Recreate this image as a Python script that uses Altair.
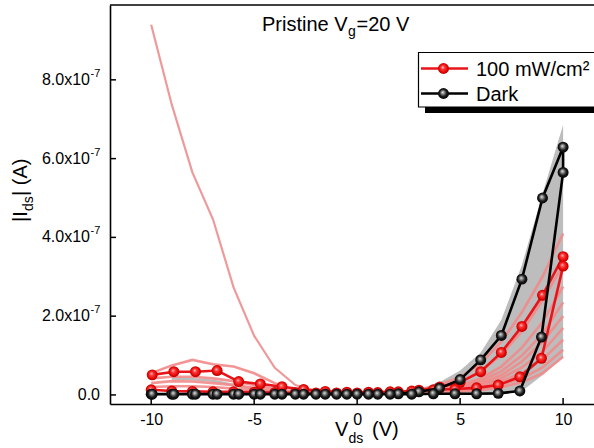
import altair as alt
import pandas as pd

FONT = "Liberation Sans"
UNIT = 1e-7  # current values below are given in units of 1e-7 A

# ---- highlighted sweeps: forward (-10 -> 10 V) then backward (10 -> -10 V)
v_fwd = [-10, -9, -8, -7, -6, -5, -4, -3, -2, -1, 0, 1, 2, 3, 4, 5, 6, 7, 8, 9, 10]
v_bwd = [10, 8.95, 7.9, 6.85, 5.8, 4.75, 3.7, 2.65, 1.6, 0.55, -0.5, -1.55,
         -2.6, -3.65, -4.7, -5.75, -6.8, -7.85, -8.9, -9.95]

dark_fwd = [0.02, 0.02, 0.02, 0.02, 0.02, 0.02, 0.02, 0.02, 0.02, 0.02, 0.02,
            0.02, 0.03, 0.08, 0.17, 0.39, 0.89, 1.51, 2.94, 5.00, 6.29]
dark_bwd = [5.65, 1.47, 0.10, 0.04, 0.03, 0.03, 0.03, 0.02, 0.02, 0.02, 0.02,
            0.02, 0.02, 0.02, 0.02, 0.02, 0.02, 0.02, 0.02, 0.02]
light_fwd = [0.13, 0.10, 0.09, 0.08, 0.08, 0.07, 0.06, 0.05, 0.05, 0.05, 0.05,
             0.06, 0.08, 0.12, 0.20, 0.32, 0.59, 1.08, 1.74, 2.53, 3.51]
light_bwd = [3.27, 0.93, 0.46, 0.25, 0.18, 0.15, 0.13, 0.10, 0.08, 0.07, 0.07,
             0.09, 0.14, 0.21, 0.28, 0.34, 0.62, 0.59, 0.59, 0.51]

# ---- repeated dark sweeps (grey envelope)
band_v = [2, 3, 4, 5, 6, 7, 8, 9, 10]
band_hi = [0.03, 0.12, 0.32, 0.62, 1.08, 1.90, 3.30, 5.10, 6.86]
band_lo = [0.00, 0.00, 0.00, 0.00, 0.02, 0.04, 0.10, 0.50, 0.97]

# ---- repeated illuminated sweeps (thin light-red curves)
fan_v = [3, 4, 5, 6, 7, 8, 9, 10]
fan_1 = [0.14, 0.26, 0.45, 0.80, 1.35, 2.10, 3.00, 4.10]
fan_2 = [0.10, 0.16, 0.25, 0.42, 0.72, 1.20, 1.85, 2.75]
fan_3 = [0.09, 0.14, 0.22, 0.36, 0.60, 1.00, 1.55, 2.35]
fan_4 = [0.08, 0.12, 0.19, 0.30, 0.50, 0.85, 1.35, 2.00]
fan_5 = [0.07, 0.10, 0.16, 0.26, 0.42, 0.70, 1.10, 1.70]
fan_6 = [0.06, 0.09, 0.13, 0.21, 0.35, 0.55, 0.90, 1.40]
fan_7 = [0.05, 0.07, 0.10, 0.16, 0.27, 0.42, 0.70, 1.15]
fan_8 = [0.04, 0.06, 0.08, 0.12, 0.20, 0.32, 0.55, 0.97]
fan_9 = [0.12, 0.20, 0.35, 0.60, 1.02, 1.62, 2.40, 3.30]

left_v = [-10, -9, -8, -7, -6, -5, -4, -3, -2]
left_1 = [0.55, 0.75, 0.89, 0.78, 0.72, 0.55, 0.30, 0.12, 0.05]
left_2 = [0.42, 0.46, 0.46, 0.42, 0.35, 0.25, 0.15, 0.08, 0.05]
left_3 = [0.30, 0.35, 0.34, 0.30, 0.25, 0.18, 0.10, 0.06, 0.04]
left_4 = [0.20, 0.22, 0.22, 0.20, 0.16, 0.12, 0.08, 0.05, 0.04]

spike_v = [-10, -9, -8, -7, -6, -5, -4, -3, -2, -1, 0, 1, 2]
spike = [9.40, 7.37, 5.65, 4.46, 2.73, 1.50, 0.69, 0.25, 0.10, 0.06, 0.05, 0.05, 0.07]

grey_left_v = [-9, -8, -7, -6, -5]
grey_left = [0.42, 0.40, 0.36, 0.25, 0.15]

# ---- axes text
x_ticks = [-10, -5, 0, 5, 10]
y_ticks = [0, 2, 4, 6, 8]
y_bases = ["0.0", "2.0x10", "4.0x10", "6.0x10", "8.0x10"]
y_exps = ["", "-7", "-7", "-7", "-7"]
legend_labels = ["100 mW/cm\u00b2", "Dark"]

W, H = 484, 399
RED = "#e8141a"
PINK = "#f28a8a"
SPIKE = "#ee9a9a"
GREY = "#bdbdbd"

# ---------------------------------------------------------------- tables
def sweep(vf, yf, vb, yb):
    rows = []
    for i, (v, y) in enumerate(zip(vf, yf)):
        rows.append({"V": v, "I": y * UNIT, "seq": i})
    for j, (v, y) in enumerate(zip(vb, yb)):
        rows.append({"V": v, "I": y * UNIT, "seq": len(vf) + j})
    return pd.DataFrame(rows)

dark_df = sweep(v_fwd, dark_fwd, v_bwd, dark_bwd)
light_df = sweep(v_fwd, light_fwd, v_bwd, light_bwd)

band_df = pd.DataFrame({"V": band_v,
                        "hi": [y * UNIT for y in band_hi],
                        "lo": [y * UNIT for y in band_lo]})

pink_rows = []
for name, vs, ys in [("f1", fan_v, fan_1), ("f2", fan_v, fan_2), ("f3", fan_v, fan_3),
                     ("f4", fan_v, fan_4), ("f5", fan_v, fan_5), ("f6", fan_v, fan_6),
                     ("f7", fan_v, fan_7), ("f8", fan_v, fan_8), ("f9", fan_v, fan_9),
                     ("l1", left_v, left_1), ("l2", left_v, left_2),
                     ("l3", left_v, left_3), ("l4", left_v, left_4)]:
    for v, y in zip(vs, ys):
        pink_rows.append({"curve": name, "V": v, "I": y * UNIT})
pink_df = pd.DataFrame(pink_rows)

spike_df = pd.DataFrame({"V": spike_v, "I": [y * UNIT for y in spike]})

grey_df = pd.DataFrame({"curve": "g1", "V": grey_left_v,
                        "I": [y * UNIT for y in grey_left]})

ytick_df = pd.DataFrame({"I": [t * UNIT for t in y_ticks],
                         "base": y_bases, "exp": y_exps})
xtick_df = pd.DataFrame({"V": x_ticks})
one = pd.DataFrame({"k": [0]})

# ---------------------------------------------------------------- scales
X_SCALE = alt.Scale(domain=[-12, 11.5], nice=False, zero=False)
Y_SCALE = alt.Scale(domain=[-0.23e-7, 9.9e-7], nice=False, zero=False)

x_axis = alt.Axis(values=x_ticks,
                  labelExpr="datum.value < 0 ? '-' + format(-datum.value, 'd') : format(datum.value, 'd')",
                  ticks=False, grid=False, title=None,
                  domainColor="black", domainWidth=1.6,
                  labelFont=FONT, labelFontSize=16, labelColor="black",
                  labelPadding=7)
y_axis = alt.Axis(labels=False, ticks=False, grid=False, title=None,
                  domainColor="black", domainWidth=1.6)


def xe(field):
    return alt.X(f"{field}:Q", scale=X_SCALE, axis=x_axis)


def ye(field):
    return alt.Y(f"{field}:Q", scale=Y_SCALE, axis=y_axis)


def ball(stops):
    return alt.RadialGradient(
        gradient="radial", x1=0.42, y1=0.38, r1=0, x2=0.5, y2=0.5, r2=0.55,
        stops=[alt.GradientStop(offset=o, color=c) for o, c in stops])

RED_BALL = ball([(0, "#ffd6d6"), (0.3, "#ff3a3a"), (0.75, "#e00000"), (1, "#a00000")])
BLACK_BALL = ball([(0, "#f0f0f0"), (0.28, "#858585"), (0.6, "#1a1a1a"), (1, "#000000")])

# ---------------------------------------------------------------- layers
x_tick_marks = alt.Chart(xtick_df).mark_rule(color="black", strokeWidth=1.5).encode(
    x=xe("V"), y=alt.value(H), y2=alt.value(H - 6))
y_tick_marks = alt.Chart(ytick_df).mark_rule(color="black", strokeWidth=1.5).encode(
    y=ye("I"), x=alt.value(0), x2=alt.value(6))

band = alt.Chart(band_df).mark_area(color=GREY).encode(
    x=xe("V"), y=ye("hi"), y2="lo:Q")

grey_lines = alt.Chart(grey_df).mark_line(color=GREY, strokeWidth=2.5).encode(
    x=xe("V"), y=ye("I"), detail="curve:N")

pink_lines = alt.Chart(pink_df).mark_line(color=PINK, strokeWidth=2.6, opacity=0.9).encode(
    x=xe("V"), y=ye("I"), detail="curve:N")

spike_line = alt.Chart(spike_df).mark_line(color=SPIKE, strokeWidth=2.2).encode(
    x=xe("V"), y=ye("I"))

red_line = alt.Chart(light_df).mark_line(color=RED, strokeWidth=2.6).encode(
    x=xe("V"), y=ye("I"), order="seq:Q")
red_pts = alt.Chart(light_df).mark_circle(size=120, fill=RED_BALL, opacity=1).encode(
    x=xe("V"), y=ye("I"))

black_line = alt.Chart(dark_df).mark_line(color="black", strokeWidth=2.6).encode(
    x=xe("V"), y=ye("I"), order="seq:Q")
black_pts = alt.Chart(dark_df).mark_circle(size=120, fill=BLACK_BALL, opacity=1).encode(
    x=xe("V"), y=ye("I"))

top_border = alt.Chart(one).mark_rule(color="black", strokeWidth=1.6).encode(
    x=alt.value(0), x2=alt.value(W + 10), y=alt.value(0))

# y tick labels with raised exponent
y_lab_base = alt.Chart(ytick_df).transform_filter("datum.exp != ''").mark_text(
    align="right", baseline="middle", font=FONT, fontSize=16, color="black").encode(
    y=ye("I"), x=alt.value(-20), text="base:N")
y_lab_exp = alt.Chart(ytick_df).transform_filter("datum.exp != ''").mark_text(
    align="left", baseline="middle", font=FONT, fontSize=11, color="black", dy=-6).encode(
    y=ye("I"), x=alt.value(-19.5), text="exp:N")
y_lab_zero = alt.Chart(ytick_df).transform_filter("datum.exp == ''").mark_text(
    align="right", baseline="middle", font=FONT, fontSize=16, color="black").encode(
    y=ye("I"), x=alt.value(-10), text="base:N")


def label(txt, x, y, size=20, angle=0):
    kw = dict(align="left", baseline="alphabetic", font=FONT, fontSize=size, color="black")
    if angle:
        kw["angle"] = angle
    return alt.Chart(one).mark_text(**kw).encode(
        x=alt.value(x), y=alt.value(y), text=alt.value(txt))

# axis titles with subscripts
x_title = [label("V", 225, 431), label("ds", 238.5, 438, 14), label("(V)", 262, 431)]
y_title = [label("|I", -83, 217, 20, 270), label("ds", -77, 206, 14, 270),
           label("| (A)", -83, 191, 20, 270)]
note = [label("Pristine V", 152, 25.5), label("g", 238, 31, 14), label("=20 V", 246.5, 25.5)]

# legend box with drop shadow
leg_shadow = alt.Chart(one).mark_rect(color="black").encode(
    x=alt.value(315), x2=alt.value(W + 10), y=alt.value(53), y2=alt.value(108))
leg_box = alt.Chart(one).mark_rect(fill="white", stroke="black", strokeWidth=1.2).encode(
    x=alt.value(308.5), x2=alt.value(W + 10), y=alt.value(47.5), y2=alt.value(102))

legend_layers = [leg_shadow, leg_box]
for lab, col, grad, yy in [(legend_labels[0], RED, RED_BALL, 63.5),
                           (legend_labels[1], "black", BLACK_BALL, 88.5)]:
    legend_layers.append(alt.Chart(one).mark_rule(color=col, strokeWidth=2.5).encode(
        x=alt.value(311), x2=alt.value(358), y=alt.value(yy)))
    legend_layers.append(alt.Chart(one).mark_circle(size=120, fill=grad, opacity=1).encode(
        x=alt.value(333.5), y=alt.value(yy)))
    legend_layers.append(alt.Chart(one).mark_text(
        align="left", baseline="middle", font=FONT, fontSize=20, color="black").encode(
        x=alt.value(366), y=alt.value(yy + 1), text=alt.value(lab)))

chart = alt.layer(
    x_tick_marks, y_tick_marks, band, grey_lines, pink_lines, spike_line,
    red_line, red_pts, black_line, black_pts, top_border,
    y_lab_base, y_lab_exp, y_lab_zero,
    *x_title, *y_title, *note, *legend_layers,
).properties(
    width=W, height=H,
    autosize=alt.AutoSizeParams(type="none"),
    padding={"left": 110, "top": 5, "right": 0, "bottom": 44},
    background="white",
).configure_view(stroke=None)

chart.save("out.html", embed_options={"renderer": "svg", "actions": False})
